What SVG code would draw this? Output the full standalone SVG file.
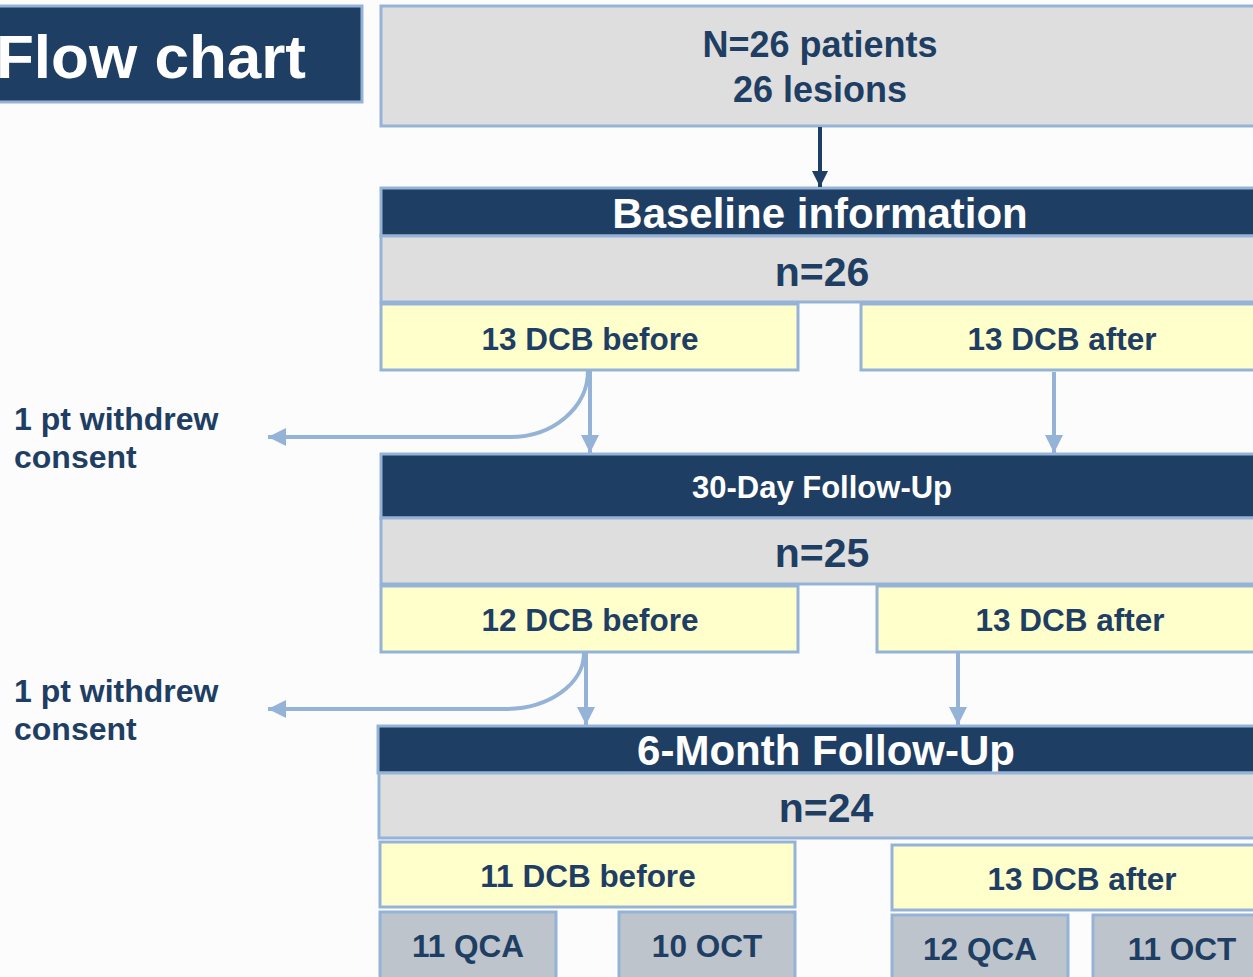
<svg xmlns="http://www.w3.org/2000/svg" width="1253" height="977" viewBox="0 0 1253 977">
<defs>
<style>
.t{font-family:"Liberation Sans",Arial,sans-serif;font-weight:bold;text-anchor:middle}
.navy{fill:#1f3e63}
.white{fill:#ffffff}
.hdr{fill:#1f3e63;stroke:#95b3d7;stroke-width:3}
.gry{fill:#dedede;stroke:#95b3d7;stroke-width:3}
.yel{fill:#ffffcc;stroke:#95b3d7;stroke-width:3}
.sg{fill:#bec4cc;stroke:#95b3d7;stroke-width:3}
.c{fill:none;stroke:#95b3d7;stroke-width:4}
</style>
<marker id="ab" viewBox="0 0 10 10" refX="10" refY="5" markerWidth="4.5" markerHeight="4.5" orient="auto" markerUnits="strokeWidth">
<path d="M0,0 L10,5 L0,10 Z" fill="#95b3d7"/>
</marker>
<marker id="an" viewBox="0 0 10 10" refX="10" refY="5" markerWidth="4" markerHeight="5" orient="auto" markerUnits="strokeWidth">
<path d="M0,0 L10,5 L0,10 Z" fill="#1f3e63"/>
</marker>
</defs>
<rect width="1253" height="977" fill="#fcfcfc"/>

<g id="title">
<rect class="hdr" x="-10" y="6" width="372" height="96"/>
<text class="t white" x="151" y="78" font-size="62">Flow chart</text>
</g>

<g id="top">
<rect class="gry" x="381" y="6" width="890" height="120"/>
<text class="t navy" x="820" y="57" font-size="36">N=26 patients</text>
<text class="t navy" x="820" y="102" font-size="36">26 lesions</text>
</g>

<g id="baseline">
<rect class="hdr" x="381" y="188" width="890" height="48"/>
<text class="t white" x="820" y="228" font-size="42">Baseline information</text>
<rect class="gry" x="381" y="236" width="890" height="66"/>
<text class="t navy" x="822" y="286" font-size="41">n=26</text>
</g>
<g id="b-before">
<rect class="yel" x="381" y="304" width="417" height="66"/>
<text class="t navy" x="590" y="350" font-size="31.5">13 DCB before</text>
</g>
<g id="b-after">
<rect class="yel" x="861" y="304" width="410" height="66"/>
<text class="t navy" x="1062" y="350" font-size="31.5">13 DCB after</text>
</g>

<g id="d30">
<rect class="hdr" x="381" y="454" width="890" height="64"/>
<text class="t white" x="822" y="498" font-size="31">30-Day Follow-Up</text>
<rect class="gry" x="381" y="518" width="890" height="66"/>
<text class="t navy" x="822" y="567" font-size="41">n=25</text>
</g>
<g id="d30-before">
<rect class="yel" x="381" y="586" width="417" height="66"/>
<text class="t navy" x="590" y="631" font-size="31.5">12 DCB before</text>
</g>
<g id="d30-after">
<rect class="yel" x="877" y="586" width="394" height="66"/>
<text class="t navy" x="1070" y="631" font-size="31.5">13 DCB after</text>
</g>

<g id="m6">
<rect class="hdr" x="378" y="726" width="893" height="47"/>
<text class="t white" x="826" y="765" font-size="42">6-Month Follow-Up</text>
<rect class="gry" x="379" y="773" width="892" height="65"/>
<text class="t navy" x="826" y="822" font-size="41">n=24</text>
</g>
<g id="m6-before">
<rect class="yel" x="380" y="842" width="415" height="65"/>
<text class="t navy" x="588" y="887" font-size="31.5">11 DCB before</text>
</g>
<g id="m6-after">
<rect class="yel" x="892" y="845" width="379" height="65"/>
<text class="t navy" x="1082" y="890" font-size="31.5">13 DCB after</text>
</g>
<g id="qca1">
<rect class="sg" x="380" y="912" width="176" height="80"/>
<text class="t navy" x="468" y="957" font-size="31.5">11 QCA</text>
</g>
<g id="oct1">
<rect class="sg" x="619" y="912" width="176" height="80"/>
<text class="t navy" x="707" y="957" font-size="31.5">10 OCT</text>
</g>
<g id="qca2">
<rect class="sg" x="892" y="915" width="176" height="80"/>
<text class="t navy" x="980" y="960" font-size="31.5">12 QCA</text>
</g>
<g id="oct2">
<rect class="sg" x="1093" y="915" width="180" height="80"/>
<text class="t navy" x="1182" y="960" font-size="31.5">11 OCT</text>
</g>

<g id="withdraw1">
<text class="t navy" style="text-anchor:start" x="14" y="430" font-size="32">1 pt withdrew</text>
<text class="t navy" style="text-anchor:start" x="14" y="468" font-size="32">consent</text>
</g>
<g id="withdraw2">
<text class="t navy" style="text-anchor:start" x="14" y="702" font-size="32">1 pt withdrew</text>
<text class="t navy" style="text-anchor:start" x="14" y="740" font-size="32">consent</text>
</g>

<g id="connectors">
<line x1="820" y1="127" x2="820" y2="187" stroke="#1f3e63" stroke-width="4" marker-end="url(#an)"/>
<line class="c" x1="590" y1="371" x2="590" y2="453" marker-end="url(#ab)"/>
<path class="c" d="M588,371 A78,66 0 0 1 510,437 L268,437" marker-end="url(#ab)"/>
<line class="c" x1="1054" y1="372" x2="1054" y2="453" marker-end="url(#ab)"/>
<line class="c" x1="586" y1="653" x2="586" y2="725" marker-end="url(#ab)"/>
<path class="c" d="M584,653 A79,56 0 0 1 505,709 L268,709" marker-end="url(#ab)"/>
<line class="c" x1="958" y1="653" x2="958" y2="725" marker-end="url(#ab)"/>
</g>
</svg>
